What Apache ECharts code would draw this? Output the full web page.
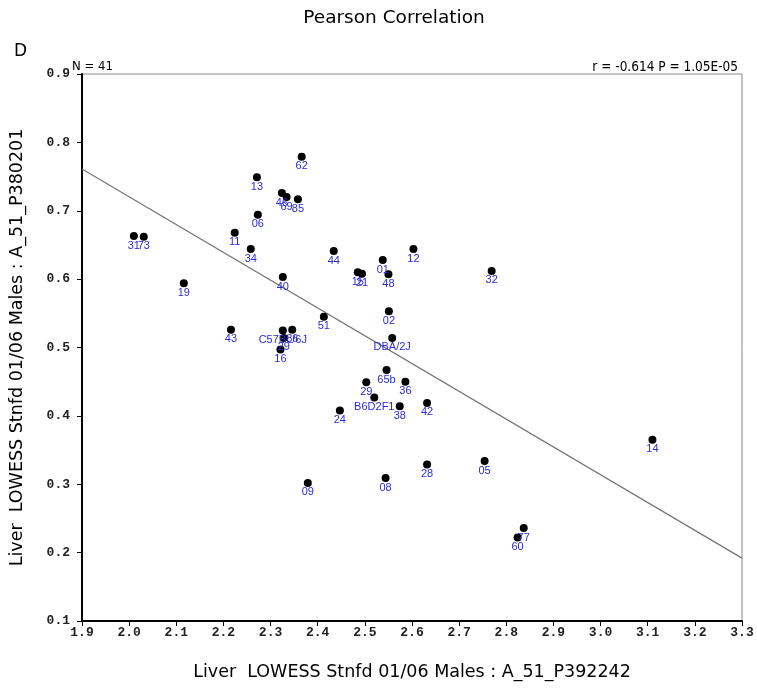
<!DOCTYPE html>
<html>
<head>
<meta charset="utf-8">
<script src="https://cdn.jsdelivr.net/npm/echarts@6/dist/echarts.min.js"></script>
<style>html,body{margin:0;padding:0;background:#fff}#c{width:757px;height:689px}</style>
</head>
<body>
<div id="c"></div>
<script>
const strainLabels = ['31','73','19','13','62','46','69','85','06','11','34','40','44','01','12','15','21','48','32','02','51','DBA/2J','43','C57BL/6J','86','29','16','65b','29','36','B6D2F1','38','24','42','28','05','08','09','14','77','60'];
const xValues = [2.010,2.031,2.116,2.271,2.366,2.324,2.334,2.358,2.273,2.224,2.258,2.326,2.434,2.538,2.603,2.485,2.494,2.550,2.769,2.551,2.413,2.558,2.216,2.326,2.346,2.328,2.321,2.546,2.503,2.586,2.520,2.574,2.447,2.632,2.632,2.754,2.544,2.379,3.110,2.837,2.824];
const yValues = [0.663,0.662,0.594,0.749,0.779,0.726,0.720,0.717,0.694,0.668,0.644,0.603,0.641,0.628,0.644,0.610,0.608,0.607,0.612,0.553,0.545,0.514,0.526,0.525,0.526,0.514,0.497,0.467,0.449,0.450,0.427,0.414,0.408,0.419,0.329,0.334,0.309,0.302,0.365,0.236,0.222];
const fitX = [1.9, 3.3];
const fitY = [0.761, 0.192];
const xTicks = ['1.9','2.0','2.1','2.2','2.3','2.4','2.5','2.6','2.7','2.8','2.9','3.0','3.1','3.2','3.3'];
const yTicks = ['0.1','0.2','0.3','0.4','0.5','0.6','0.7','0.8','0.9'];

const chart = echarts.init(document.getElementById('c'), null, {renderer:'canvas'});
const pts = xValues.map((x,i)=>({value:[x,yValues[i]], name:strainLabels[i]}));
const tickFont = {fontFamily:'Liberation Mono', fontWeight:'bold', fontSize:13, color:'#222'};
chart.setOption({
  animation:false,
  backgroundColor:'#fff',
  title:[
    {text:'Pearson Correlation', left:389, top:4, textAlign:'center', textStyle:{fontFamily:'DejaVu Sans', fontSize:18.5, fontWeight:'normal', color:'#000'}},
    {text:'D', left:9, top:38, textStyle:{fontFamily:'DejaVu Sans', fontSize:17, fontWeight:'normal', color:'#000'}},
    {text:'N = '+xValues.length, left:67, top:55, textStyle:{fontFamily:'DejaVu Sans Condensed', fontSize:13, fontWeight:'normal', color:'#000'}},
    {text:'r = -0.614 P = 1.05E-05', right:14, top:55, textStyle:{fontFamily:'DejaVu Sans Condensed', fontSize:13.5, fontWeight:'normal', color:'#000'}}
  ],
  grid:{left:81, right:15, top:74, bottom:68, show:true, borderColor:'#888', borderWidth:1},
  xAxis:{
    type:'value', min:1.9, max:3.3, interval:0.1,
    name:'Liver  LOWESS Stnfd 01/06 Males : A_51_P392242', nameLocation:'middle', nameGap:42,
    nameTextStyle:{fontFamily:'DejaVu Sans', fontSize:17.5, color:'#000'},
    axisLine:{lineStyle:{color:'#000', width:2}},
    axisTick:{length:5, lineStyle:{color:'#000'}},
    axisLabel:Object.assign({margin:5, formatter:(v)=>{const i=Math.round((v-1.9)*10);return xTicks[i]||'';}}, tickFont),
    splitLine:{show:false}
  },
  yAxis:{
    type:'value', min:0.1, max:0.9, interval:0.1,
    name:'Liver  LOWESS Stnfd 01/06 Males : A_51_P380201', nameLocation:'middle', nameGap:56,
    nameTextStyle:{fontFamily:'DejaVu Sans', fontSize:17.5, color:'#000'},
    axisLine:{lineStyle:{color:'#000', width:2}},
    axisTick:{length:5, lineStyle:{color:'#000'}},
    axisLabel:Object.assign({margin:12, formatter:(v)=>{const i=Math.round((v-0.1)*10);return yTicks[i]||'';}}, tickFont),
    splitLine:{show:false}
  },
  series:[
    {type:'line', data:fitX.map((x,i)=>[x,fitY[i]]), symbol:'none', lineStyle:{color:'#777', width:1.3}, z:1, silent:true},
    {type:'scatter', data:pts, symbolSize:8, itemStyle:{color:'#000', opacity:1}, z:3,
     label:{show:true, position:'bottom', distance:0, formatter:(p)=>p.name, fontFamily:'Liberation Sans', fontSize:11, color:'#2b2bd6'}}
  ]
});
</script>
</body>
</html>
